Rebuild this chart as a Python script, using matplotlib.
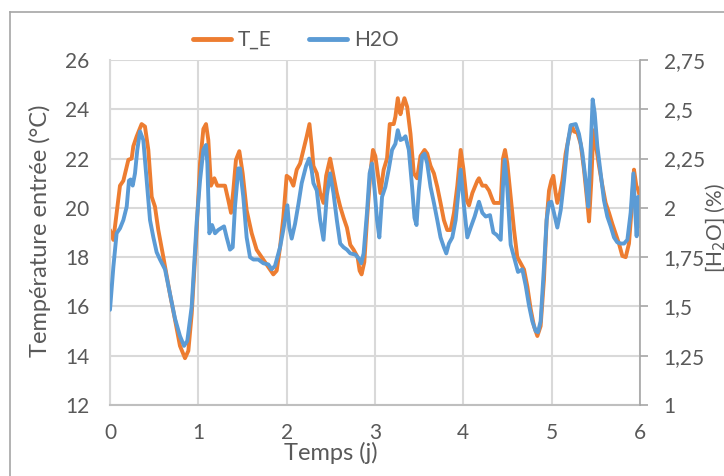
import matplotlib
matplotlib.use("Agg")
import matplotlib.pyplot as plt
from matplotlib.lines import Line2D

# ---- data ----
te_days = [0.0, 0.038, 0.113, 0.151, 0.208, 0.245, 0.264, 0.302, 0.358, 0.396,
           0.434, 0.472, 0.509, 0.547, 0.604, 0.679, 0.736, 0.792, 0.849, 0.887,
           0.925, 0.981, 1.019, 1.057, 1.087, 1.113, 1.143, 1.181, 1.215, 1.264,
           1.302, 1.340, 1.370, 1.396, 1.426, 1.464, 1.502, 1.547, 1.604, 1.660,
           1.736, 1.792, 1.849, 1.887, 1.925, 1.962,
           2.0, 2.038, 2.076, 2.114, 2.152, 2.189, 2.227, 2.258, 2.284, 2.303,
           2.341, 2.379, 2.417, 2.447, 2.492, 2.530, 2.568, 2.606, 2.644, 2.682,
           2.720, 2.758, 2.803, 2.826, 2.848, 2.879, 2.909, 2.947, 2.977, 3.004,
           3.034, 3.061, 3.098, 3.136, 3.167, 3.212, 3.231, 3.258, 3.288, 3.307,
           3.333, 3.364, 3.402, 3.439, 3.477, 3.515, 3.561, 3.591, 3.629, 3.667,
           3.705, 3.742, 3.780, 3.818, 3.856, 3.894, 3.932, 3.970, 4.0, 4.038,
           4.064, 4.102, 4.159,
           4.177, 4.215, 4.253, 4.291, 4.328, 4.347, 4.385, 4.423, 4.449, 4.472,
           4.498, 4.536, 4.574, 4.611, 4.649, 4.687, 4.725, 4.762, 4.800, 4.838,
           4.875, 4.913, 4.943, 4.970, 4.996, 5.019, 5.045, 5.064, 5.094, 5.121,
           5.158, 5.196, 5.226, 5.253, 5.291, 5.328, 5.366, 5.404, 5.423, 5.449,
           5.472, 5.498, 5.536, 5.574, 5.611, 5.649, 5.687, 5.725, 5.762, 5.800,
           5.838, 5.875, 5.902, 5.932, 5.958, 5.977, 6.0]
te_values = [19.1, 18.7, 20.9, 21.1, 21.95, 22.0, 22.5, 22.9, 23.4, 23.3,
             22.35, 20.45, 20.05, 19.1, 18.0, 16.5, 15.46, 14.4, 13.9, 14.2,
             15.7, 19.1, 21.8, 23.2, 23.4, 22.75, 20.9, 21.2, 20.9, 20.9,
             20.9, 20.3, 19.8, 20.7, 21.95, 22.3, 21.4, 19.9, 18.97, 18.3,
             17.9, 17.6, 17.3, 17.45, 18.4, 19.6,
             21.3, 21.2, 20.9, 21.55, 21.8, 22.35, 22.9, 23.4, 22.5, 21.7,
             21.4, 20.6, 20.2, 21.3, 22.0, 21.3, 20.6, 20.05, 19.6, 19.2,
             18.5, 18.3, 18.0, 17.45, 17.3, 17.8, 19.5, 21.4, 22.35, 22.1,
             21.3, 20.6, 21.55, 22.0, 23.4, 23.4, 23.7, 24.45, 23.8, 24.1,
             24.45, 24.1, 23.0, 21.4, 21.2, 22.1, 22.35, 22.2, 21.7, 21.4,
             20.85, 20.2, 19.5, 19.1, 19.1, 19.8, 20.9, 22.35, 21.6, 20.3,
             20.1, 20.6, 21.1,
             21.2, 20.9, 20.9, 20.7, 20.35, 20.2, 20.2, 20.2, 22.0, 22.35,
             21.8, 20.45, 19.1, 18.0, 17.75, 17.5, 16.8, 15.9, 15.2, 14.8,
             15.2, 17.1, 19.5, 20.7, 21.1, 21.3, 20.6, 20.2, 20.6, 21.1,
             22.2, 22.9, 23.35, 23.1, 23.05, 22.6, 21.55, 20.2, 19.45, 21.1,
             23.15, 22.6, 21.7, 20.9, 20.2, 19.8, 19.35, 18.95, 18.55, 18.05,
             18.0, 18.55, 19.8, 21.55, 20.9, 20.75, 20.45]

h2o_days = [0.0, 0.038, 0.075, 0.113, 0.151, 0.189, 0.215, 0.234, 0.257, 0.283,
            0.309, 0.340, 0.377, 0.415, 0.453, 0.491, 0.528, 0.566, 0.623, 0.679,
            0.736, 0.792, 0.838, 0.875, 0.925, 0.981, 1.019, 1.057, 1.087, 1.102,
            1.125, 1.155, 1.189, 1.226, 1.291, 1.321, 1.358, 1.389, 1.415, 1.453,
            1.472, 1.509, 1.547, 1.585, 1.623, 1.679, 1.736, 1.792, 1.830, 1.868,
            1.925, 1.962, 2.008,
            2.030, 2.057, 2.095, 2.133, 2.170, 2.220, 2.254, 2.284, 2.303, 2.341,
            2.379, 2.417, 2.455, 2.492, 2.530, 2.568, 2.606, 2.644, 2.682, 2.720,
            2.777, 2.826, 2.845, 2.871, 2.909, 2.939, 2.966, 2.996, 3.023, 3.049,
            3.080, 3.117, 3.155, 3.193, 3.231, 3.258, 3.288, 3.318, 3.345, 3.383,
            3.420, 3.447, 3.470, 3.496, 3.534, 3.561, 3.591, 3.629, 3.667, 3.705,
            3.742, 3.780, 3.807, 3.837, 3.875, 3.913, 3.970,
            4.008, 4.045, 4.083, 4.128, 4.177, 4.215, 4.253, 4.302, 4.340, 4.377,
            4.423, 4.449, 4.468, 4.498, 4.536, 4.574, 4.619, 4.668, 4.706, 4.743,
            4.781, 4.819, 4.845, 4.875, 4.913, 4.943, 4.970, 4.996, 5.026, 5.064,
            5.102, 5.140, 5.177, 5.215, 5.272, 5.309, 5.347, 5.385, 5.415, 5.442,
            5.464, 5.487, 5.517, 5.555, 5.592, 5.630, 5.668, 5.706, 5.743, 5.781,
            5.819, 5.857, 5.894, 5.925, 5.943, 5.962, 5.981, 6.0]
h2o_values = [1.483, 1.700, 1.871, 1.896, 1.938, 2.006, 2.138, 2.144, 2.113, 2.175,
              2.294, 2.388, 2.344, 2.138, 1.938, 1.850, 1.775, 1.738, 1.688, 1.563,
              1.438, 1.350, 1.300, 1.325, 1.500, 1.925, 2.138, 2.294, 2.319, 2.225,
              1.871, 1.913, 1.871, 1.888, 1.906, 1.850, 1.788, 1.800, 2.006, 2.200,
              2.200, 2.056, 1.850, 1.750, 1.738, 1.738, 1.719, 1.713, 1.688, 1.706,
              1.800, 1.888, 2.013,
              1.900, 1.844, 1.919, 2.019, 2.125, 2.213, 2.250, 2.188, 2.125, 2.088,
              1.938, 1.838, 2.063, 2.175, 2.075, 1.938, 1.819, 1.800, 1.788, 1.769,
              1.763, 1.738, 1.719, 1.769, 1.975, 2.175, 2.225, 2.088, 1.938, 1.850,
              2.056, 2.106, 2.194, 2.294, 2.325, 2.394, 2.344, 2.350, 2.363, 2.294,
              2.106, 1.950, 1.913, 2.088, 2.263, 2.275, 2.225, 2.106, 2.025, 1.938,
              1.850, 1.800, 1.769, 1.819, 1.850, 1.938, 2.194,
              2.006, 1.850, 1.900, 1.956, 2.031, 1.975, 1.956, 1.963, 1.875, 1.863,
              1.838, 2.113, 2.244, 2.100, 1.813, 1.750, 1.675, 1.688, 1.606, 1.506,
              1.425, 1.375, 1.369, 1.425, 1.700, 1.938, 2.025, 2.031, 1.975, 1.900,
              1.988, 2.138, 2.313, 2.419, 2.425, 2.375, 2.281, 2.138, 2.006, 2.313,
              2.550, 2.481, 2.313, 2.175, 2.038, 1.956, 1.906, 1.850, 1.825, 1.819,
              1.819, 1.838, 1.975, 2.175, 2.006, 1.856, 2.056, 1.906]

x_ticks = [0, 1, 2, 3, 4, 5, 6]
left_ticks = [12, 14, 16, 18, 20, 22, 24, 26]
right_ticks = [1, 1.25, 1.5, 1.75, 2, 2.25, 2.5, 2.75]
right_tick_labels = ["1", "1,25", "1,5", "1,75", "2", "2,25", "2,5", "2,75"]

ORANGE = "#ED7D31"
BLUE = "#5B9BD5"
TXT = "#595959"
GRID = "#D9D9D9"
FONT = "Lato"
FS = 15
FS_TITLE = 17

plt.rcParams["font.family"] = [FONT, "DejaVu Sans"]

fig = plt.figure(figsize=(7.24, 4.76), dpi=100)
ax1 = fig.add_axes([110/724, 1-405/476, 530/724, 345/476])
ax2 = ax1.twinx()

ax1.plot(te_days, te_values, color=ORANGE, lw=2.8, solid_joinstyle="round",
         solid_capstyle="round", label="T_E")
ax2.plot(h2o_days, h2o_values, color=BLUE, lw=2.8, solid_joinstyle="round",
         solid_capstyle="round", label="H2O")

ax1.set_xlim(0, 6)
ax1.set_ylim(12, 26)
ax2.set_ylim(1, 2.75)
ax1.set_xticks(x_ticks)
ax1.set_xticklabels([str(v) for v in x_ticks])
ax1.set_yticks(left_ticks)
ax1.set_yticklabels([str(v) for v in left_ticks])
ax2.set_yticks(right_ticks)
ax2.set_yticklabels(right_tick_labels)

ax1.grid(True, color=GRID, lw=1.5)
ax1.set_axisbelow(True)

for ax in (ax1, ax2):
    ax.spines["top"].set_visible(False)
ax1.spines["left"].set_color(GRID)
ax1.spines["left"].set_linewidth(1.5)
ax1.spines["right"].set_visible(False)
ax1.spines["bottom"].set_color("#BFBFBF")
ax1.spines["bottom"].set_linewidth(1.5)
ax2.spines["left"].set_visible(False)
ax2.spines["bottom"].set_visible(False)
ax2.spines["right"].set_color("#A6A6A6")
ax2.spines["right"].set_linewidth(1.2)

ax1.tick_params(axis="x", length=0, pad=13, labelsize=FS, labelcolor=TXT)
ax1.tick_params(axis="y", length=0, pad=15, labelsize=FS, labelcolor=TXT)
ax2.tick_params(axis="y", length=6, width=1.2, color="#A6A6A6", direction="out",
                pad=11, labelsize=FS, labelcolor=TXT)

fig.text(40/724, 1-231/476, "Température entrée (°C)", rotation=90,
         ha="center", va="center", fontsize=FS_TITLE, color=TXT)
fig.text(331/724, 1-460/476, "Temps (j)", ha="center", va="baseline",
         fontsize=FS_TITLE, color=TXT)
fig.text(716/724, 1-228/476, "[H$_2$O] (%)", rotation=90,
         ha="center", va="center", fontsize=FS, color=TXT)

handles = [Line2D([0], [0], color=ORANGE, lw=3.5, solid_capstyle="round"),
           Line2D([0], [0], color=BLUE, lw=3.5, solid_capstyle="round")]
leg = fig.legend(handles, ["T_E", "H2O"], loc="center",
                 bbox_to_anchor=(296/724, 1-40/476), ncol=2, frameon=False,
                 fontsize=FS, handlelength=1.8, handletextpad=0.35,
                 columnspacing=1.8)
for t in leg.get_texts():
    t.set_color(TXT)

# outer chart border (partially outside the image)
fig.add_artist(Line2D([10/724, 10/724], [0, 1-12/476], color="#A6A6A6", lw=1.2,
                      transform=fig.transFigure))
fig.add_artist(Line2D([10/724, 1], [1-12/476, 1-12/476], color="#A6A6A6", lw=1.2,
                      transform=fig.transFigure))

fig.savefig("out.png", dpi=100)
